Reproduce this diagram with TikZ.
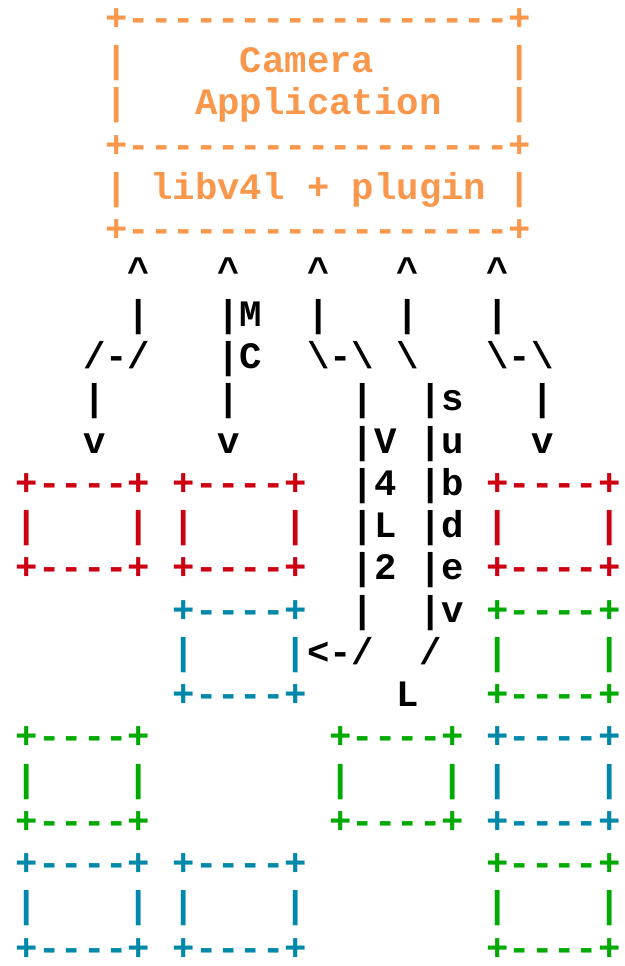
\documentclass[tikz,border=0pt]{standalone}
\usepackage{fontspec}
\setmonofont{Liberation Mono}
\definecolor{apporange}{RGB}{249,152,76}
\definecolor{devred}{RGB}{204,0,17}
\definecolor{devblue}{RGB}{0,136,170}
\definecolor{devgreen}{RGB}{0,170,0}
\tikzset{art/.style={anchor=base west, inner sep=0pt, outer sep=0pt,
    xshift=-6.9pt, yshift=-9pt, font=\fontsize{28}{32}\selectfont\ttfamily\bfseries}}
\newcommand{\bs}{\textbackslash}
\newcommand{\up}{\textasciicircum}

\begin{document}
\begin{tikzpicture}[x=16.8pt, y=-31.70pt]
\useasboundingbox (-1.116,-0.433) rectangle (26.741,22.42);

% application box
\begin{scope}[every node/.style={art, text=apporange}]
\node (apptop) at (4,0) {+-----------------+};
\node (appcam) at (4,1) {|~~~~~Camera~~~~~~|};
\node (appapp) at (4,2) {|~~~Application~~~|};
\node (appmid) at (4,3) {+-----------------+};
\node (applib) at (4,4) {|~libv4l~+~plugin~|};
\node (appbot) at (4,5) {+-----------------+};
\end{scope}

% arrows
\begin{scope}[every node/.style={art, text=black}]
\node (heads) at (5,6) {\up~~~\up~~~\up~~~\up~~~\up};
\node (stems) at (5,7) {|~~~|M~~|~~~|~~~|};
\node (bends) at (3,8) {/-/~~~|C~~\bs-\bs~\bs~~~\bs-\bs};
\node (down1) at (3,9) {|~~~~~|~~~~~|~~|s~~~|};
\node (down2) at (3,10) {v~~~~~v~~~~~|V~|u~~~v};
\node (vl4) at (15,11) {|4~|b};
\node (vll) at (15,12) {|L~|d};
\node (vl2) at (15,13) {|2~|e};
\node (vlv) at (15,14) {|~~|v};
\node (vlret) at (13,15) {<-/~~/};
\node (subl) at (17,16) {L};
\end{scope}

% red devices
\begin{scope}[every node/.style={art, text=devred}]
\node (redatop) at (0,11) {+----+~+----+};
\node (redamid) at (0,12) {|~~~~|~|~~~~|};
\node (redabot) at (0,13) {+----+~+----+};
\node (redbtop) at (21,11) {+----+};
\node (redbmid) at (21,12) {|~~~~|};
\node (redbbot) at (21,13) {+----+};
\end{scope}

% blue devices
\begin{scope}[every node/.style={art, text=devblue}]
\node (blueatop) at (7,14) {+----+};
\node (blueamid) at (7,15) {|~~~~|};
\node (blueabot) at (7,16) {+----+};
\node (bluebtop) at (21,17) {+----+};
\node (bluebmid) at (21,18) {|~~~~|};
\node (bluebbot) at (21,19) {+----+};
\node (bluectop) at (0,20) {+----+~+----+};
\node (bluecmid) at (0,21) {|~~~~|~|~~~~|};
\node (bluecbot) at (0,22) {+----+~+----+};
\end{scope}

% green devices
\begin{scope}[every node/.style={art, text=devgreen}]
\node (greenatop) at (21,14) {+----+};
\node (greenamid) at (21,15) {|~~~~|};
\node (greenabot) at (21,16) {+----+};
\node (greenbtop) at (0,17) {+----+};
\node (greenbmid) at (0,18) {|~~~~|};
\node (greenbbot) at (0,19) {+----+};
\node (greenctop) at (14,17) {+----+};
\node (greencmid) at (14,18) {|~~~~|};
\node (greencbot) at (14,19) {+----+};
\node (greendtop) at (21,20) {+----+};
\node (greendmid) at (21,21) {|~~~~|};
\node (greendbot) at (21,22) {+----+};
\end{scope}

\end{tikzpicture}
\end{document}
